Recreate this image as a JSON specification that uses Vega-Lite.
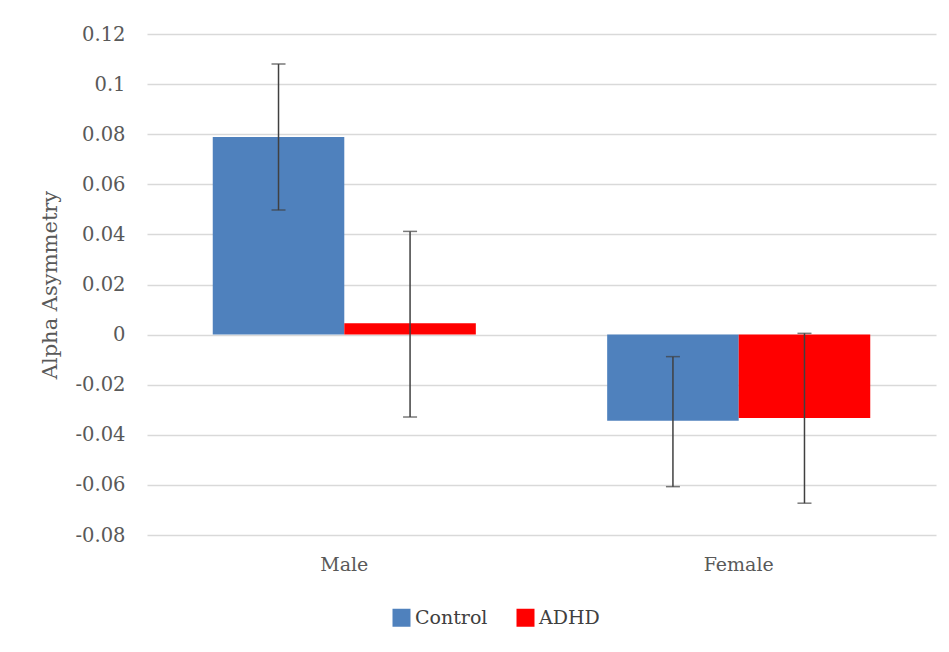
{
  "$schema": "https://vega.github.io/schema/vega-lite/v6.json",
  "autosize": "none",
  "width": 789,
  "height": 501,
  "padding": {"left": 147, "top": 34, "right": 13, "bottom": 117},
  "background": "white",
  "data": {"values": [
    {"sex": "Male", "group": "Control", "value": 0.0789, "lo": 0.0497, "hi": 0.108},
    {"sex": "Male", "group": "ADHD", "value": 0.0045, "lo": -0.0329, "hi": 0.0412},
    {"sex": "Female", "group": "Control", "value": -0.0344, "lo": -0.0607, "hi": -0.0088},
    {"sex": "Female", "group": "ADHD", "value": -0.0333, "lo": -0.0673, "hi": 0.0005}
  ]},
  "encoding": {
    "x": {"field": "sex", "type": "nominal", "sort": ["Male", "Female"],
      "scale": {"paddingInner": 0.333, "paddingOuter": 0.1667},
      "axis": {"title": null, "labelAngle": 0, "domain": false, "ticks": false, "labelPadding": 20, "labelFontSize": 19, "labelColor": "#595959", "labelFont": "DejaVu Serif"}},
    "xOffset": {"field": "group", "type": "nominal", "sort": ["Control", "ADHD"]}
  },
  "layer": [
    {"mark": {"type": "bar"},
     "encoding": {
       "y": {"field": "value", "type": "quantitative",
         "scale": {"domain": [-0.08, 0.12], "nice": false, "zero": false},
         "axis": {"title": "Alpha Asymmetry", "values": [-0.08, -0.06, -0.04, -0.02, 0, 0.02, 0.04, 0.06, 0.08, 0.1, 0.12],
           "labelExpr": "datum.value == 0 ? '0' : replace(format(datum.value, '.2~f'), '\u2212', '-')",
           "domain": false, "ticks": false, "gridColor": "#d9d9d9", "gridWidth": 1.5,
           "labelPadding": 22, "labelFontSize": 19.5, "labelColor": "#595959", "labelFont": "DejaVu Serif",
           "titleFontSize": 21, "titleColor": "#595959", "titleFont": "DejaVu Serif", "titleFontWeight": "normal", "titlePadding": 14}},
       "color": {"field": "group", "type": "nominal", "sort": ["Control", "ADHD"],
         "scale": {"domain": ["Control", "ADHD"], "range": ["#4F81BD", "#FF0000"]},
         "legend": {"title": null, "orient": "none", "legendX": 245, "legendY": 574, "direction": "horizontal",
           "symbolType": "square", "symbolSize": 324, "symbolStrokeWidth": 0, "symbolOpacity": 1,
           "labelFontSize": 19, "labelColor": "#404040", "labelFont": "DejaVu Serif", "columnPadding": 28, "labelOffset": 4}}
     }},
    {"mark": {"type": "rule", "color": "#404040", "strokeWidth": 1.5},
     "encoding": {"y": {"field": "lo", "type": "quantitative"}, "y2": {"field": "hi"}}},
    {"mark": {"type": "tick", "color": "#404040", "thickness": 1.5, "size": 14, "orient": "horizontal"},
     "encoding": {"y": {"field": "lo", "type": "quantitative"}}},
    {"mark": {"type": "tick", "color": "#404040", "thickness": 1.5, "size": 14, "orient": "horizontal"},
     "encoding": {"y": {"field": "hi", "type": "quantitative"}}}
  ],
  "config": {"view": {"stroke": null}}
}
